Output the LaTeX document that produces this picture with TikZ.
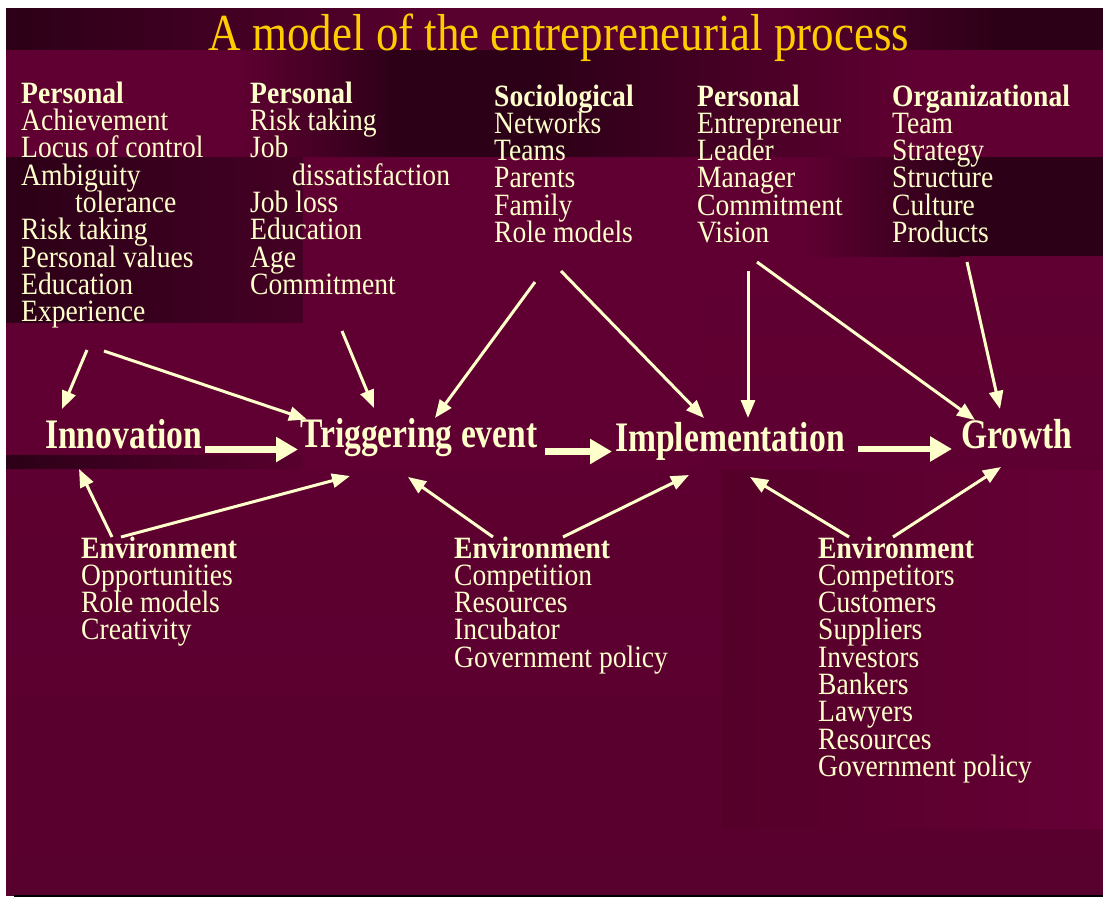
\documentclass[tikz,border=0pt]{standalone}
\usepackage{fontspec}
\setmainfont{Liberation Serif}
\newfontfamily\bodyfnt[FakeStretch=0.89]{Liberation Serif}
\newfontfamily\stagefnt[FakeStretch=0.80]{Liberation Serif}
\newfontfamily\titlefnt[FakeStretch=0.865]{Liberation Serif}
\usetikzlibrary{arrows.meta}

\definecolor{cream}{HTML}{FFFFCC}
\definecolor{gold}{HTML}{FFCC00}
\definecolor{wine}{HTML}{58002E}
\definecolor{winelight}{HTML}{600032}
\definecolor{winedark}{HTML}{2C0017}
\definecolor{winemid}{HTML}{440024}
\definecolor{winebox}{HTML}{540029}
\definecolor{wineboxr}{HTML}{660036}

% a tightly leaded column of factors, baseline on its first line
\newcommand\factorlist[1]{\parbox[t]{330pt}{\bodyfnt
  \fontsize{31}{27.3}\selectfont\lineskiplimit=-100pt\lineskip=0pt
  \raggedright #1}}

\begin{document}
\begin{tikzpicture}[x=1pt,y=-1pt,
  factors/.style={anchor=base west, inner sep=0pt, text=cream},
  stage/.style={anchor=base west, inner sep=0pt, text=cream,
    font=\stagefnt\bfseries\fontsize{42}{42}\selectfont},
  thin/.style={draw=cream, line width=3pt,
    -{Triangle[length=18pt,width=14pt]}},
  thick/.style={draw=cream, line width=6.5pt,
    -{Triangle[length=22pt,width=24pt]}}]

\useasboundingbox (0,0) rectangle (1103,897);

% ---------- backdrop ----------
\fill[wine] (6,8) rectangle (1103,895);
\shade[top color=winelight, bottom color=wine] (6,256) rectangle (1103,895);
% title band
\shade[left color=winedark, right color=wine] (6,8) rectangle (450,50);
\fill[wine] (450,8) rectangle (780,50);
\shade[left color=wine, right color=winedark] (780,8) rectangle (1000,50);
\fill[winedark] (1000,8) rectangle (1103,50);
% upper row of factor boxes
\fill[winelight] (6,50) rectangle (233,157);
\shade[left color=winelight, right color=winedark] (233,50) rectangle (400,157);
\fill[winedark] (400,50) rectangle (540,157);
\shade[left color=winedark, right color=winelight] (540,50) rectangle (920,157);
\fill[winelight] (920,50) rectangle (1103,157);
% lower row of factor boxes
\shade[left color=winedark, right color=winemid] (6,157) rectangle (303,323);
\fill[winelight] (303,157) rectangle (800,256);
\shade[left color=winelight, right color=winedark] (800,157) rectangle (960,256);
\fill[winedark] (960,157) rectangle (1103,256);
% stage row
\fill[winelight] (6,323) rectangle (303,455);
\fill[winelight] (303,256) rectangle (697,468);
\shade[left color=winedark, right color=wine] (6,455) rectangle (303,468);
% environment box on the right
\shade[left color=winebox, right color=wineboxr] (722,470) rectangle (1103,828);
\draw[black, line width=1.5pt] (14,896) -- (1103,896);

% ---------- title ----------
\node[anchor=base, inner sep=0pt, text=gold,
  font=\titlefnt\fontsize{52}{52}\selectfont] (title) at (559,50.7)
  {A model of the entrepreneurial process};

% ---------- factor columns ----------
\node[factors] (pa) at (21,103.3) {\factorlist{\textbf{Personal}\\
  Achievement\\ Locus of control\\ Ambiguity\\ \hspace*{54pt}tolerance\\
  Risk taking\\ Personal values\\ Education\\ Experience}};
\node[factors] (pb) at (250,103.3) {\factorlist{\textbf{Personal}\\
  Risk taking\\ Job\\ \hspace*{42pt}dissatisfaction\\ Job loss\\
  Education\\ Age\\ Commitment}};
\node[factors] (so) at (494,106) {\factorlist{\textbf{Sociological}\\
  Networks\\ Teams\\ Parents\\ Family\\ Role models}};
\node[factors] (pc) at (697,106) {\factorlist{\textbf{Personal}\\
  Entrepreneur\\ Leader\\ Manager\\ Commitment\\ Vision}};
\node[factors] (og) at (892,106) {\factorlist{\textbf{Organizational}\\
  Team\\ Strategy\\ Structure\\ Culture\\ Products}};

% ---------- environment columns ----------
\node[factors] (ea) at (81,558) {\factorlist{\textbf{Environment}\\
  Opportunities\\ Role models\\ Creativity}};
\node[factors] (eb) at (454,558) {\factorlist{\textbf{Environment}\\
  Competition\\ Resources\\ Incubator\\ Government policy}};
\node[factors] (ec) at (818,558) {\factorlist{\textbf{Environment}\\
  Competitors\\ Customers\\ Suppliers\\ Investors\\ Bankers\\ Lawyers\\
  Resources\\ Government policy}};

% ---------- stages ----------
\node[stage] (innov) at (45,448.3) {Innovation};
\node[stage] (trig) at (300,447.5) {Triggering event};
\node[stage] (impl) at (615,451.5) {Implementation};
\node[stage] (grow) at (961,448.3) {Growth};

% ---------- connector end points ----------
\coordinate (innovIn) at (205,449.5);  \coordinate (trigL) at (298,449.5);
\coordinate (trigOut) at (545,451.5);  \coordinate (implL) at (612,451.5);
\coordinate (implOut) at (858,449);    \coordinate (growL) at (952,449);

\coordinate (paA) at (87,350);   \coordinate (innovT) at (62,409);
\coordinate (paB) at (104,351);  \coordinate (trigTL) at (307,419.5);
\coordinate (pbA) at (342,331);  \coordinate (trigT) at (374,408);
\coordinate (soA) at (535,282);  \coordinate (trigTR) at (435,418);
\coordinate (soB) at (561,271);  \coordinate (implTL) at (704,418);
\coordinate (pcA) at (748,271);  \coordinate (implT) at (748,418);
\coordinate (pcB) at (757,262);  \coordinate (growTL) at (975,420);
\coordinate (ogA) at (967,262);  \coordinate (growT) at (1000,409);

\coordinate (eaA) at (112,537);  \coordinate (innovB) at (79,469);
\coordinate (eaB) at (121,537);  \coordinate (trigBL) at (350,476);
\coordinate (ebA) at (493,537);  \coordinate (trigB) at (408,477);
\coordinate (ebB) at (563,537);  \coordinate (implBL) at (689,475);
\coordinate (ecA) at (849,537);  \coordinate (implB) at (750,477);
\coordinate (ecB) at (893,537);  \coordinate (growB) at (1001,467);

% ---------- process flow ----------
\draw[thick] (innovIn) -- (trigL);
\draw[thick] (trigOut) -- (implL);
\draw[thick] (implOut) -- (growL);

% ---------- influences ----------
\draw[thin] (paA) -- (innovT);
\draw[thin] (paB) -- (trigTL);
\draw[thin] (pbA) -- (trigT);
\draw[thin] (soA) -- (trigTR);
\draw[thin] (soB) -- (implTL);
\draw[thin] (pcA) -- (implT);
\draw[thin] (pcB) -- (growTL);
\draw[thin] (ogA) -- (growT);

\draw[thin] (eaA) -- (innovB);
\draw[thin] (eaB) -- (trigBL);
\draw[thin] (ebA) -- (trigB);
\draw[thin] (ebB) -- (implBL);
\draw[thin] (ecA) -- (implB);
\draw[thin] (ecB) -- (growB);
\end{tikzpicture}
\end{document}
